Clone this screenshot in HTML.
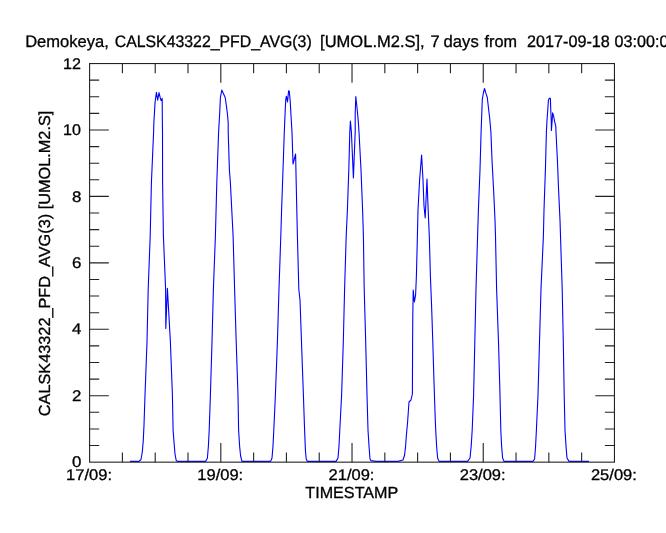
<!DOCTYPE html>
<html><head><meta charset="utf-8"><title>plot</title>
<style>
html,body{margin:0;padding:0;background:#fff;overflow:hidden}
svg{display:block}
text{font-family:"Liberation Sans",sans-serif;font-size:16.05px;fill:#000;stroke:#000;stroke-width:0.3px;text-rendering:geometricPrecision}
text.k{font-size:15.4px}
text.t{font-size:16.6px;stroke-width:0.3px}
</style></head><body>
<svg width="666" height="533" viewBox="0 0 666 533">
<rect width="666" height="533" fill="#fff"/>
<text class="t" y="46.9"><tspan x="25.2" textLength="83.6" lengthAdjust="spacingAndGlyphs">Demokeya,</tspan> <tspan x="114.7" textLength="197.0" lengthAdjust="spacingAndGlyphs">CALSK43322_PFD_AVG(3)</tspan> <tspan x="320.1" textLength="104.6" lengthAdjust="spacingAndGlyphs">[UMOL.M2.S],</tspan> <tspan x="430.4" textLength="9.2" lengthAdjust="spacingAndGlyphs">7</tspan> <tspan x="443.6" textLength="35.2" lengthAdjust="spacingAndGlyphs">days</tspan> <tspan x="484.5" textLength="32.4" lengthAdjust="spacingAndGlyphs">from</tspan> <tspan x="527.0" textLength="82.8" lengthAdjust="spacingAndGlyphs">2017-09-18</tspan> <tspan x="614.6" textLength="62.8" lengthAdjust="spacingAndGlyphs">03:00:00</tspan></text>
<polyline points="130,461.4 139,461.4 141,459.5 142.3,452 143.3,440 144,425 145,395 147,342 148.2,289 150.2,236 151.4,183 153.6,132 153.9,121.8 154.5,111.9 155,102.9 156.4,92.3 157.7,100.2 159,92.6 160.2,97.5 161.1,100.7 162.2,98.4 162.3,115.5 162.5,132 162.6,183 163.4,236 165.6,289 165.8,328.4 167.4,288.4 170.4,342 172.4,395 173.1,430 174,442 175,454 176.2,460.3 177.2,461.4 205.6,461.4 207.4,458 208.4,446 209.2,430 210.4,395 212,342 213.4,289 215.4,236 216.8,183 218.6,132 219.3,120 219.8,111 220.4,97.5 221.8,90.1 225.2,97.5 226.5,106.5 227.6,115.5 228.2,122.7 228.2,132 229.4,170 230.4,183 233.1,236 234.6,289 236.2,342 238,395 238.6,430 239.6,446 240.6,456 242,461.4 270.6,461.4 272,458 273,446 273.8,430 275.4,395 277.4,342 279,289 280.8,236 281.6,210 283,170 284.3,132 284.8,120 285.4,106.5 285.7,100.2 286.4,96.2 287.5,102 288.6,90.8 289.3,91.2 290.2,101.1 291.1,117.3 292,132 293,164 295.6,154 296.2,183 297.4,236 298.8,289 300,300 301.5,342 303.4,395 304.6,430 305.4,450 306.2,459 307.4,461.4 336,461.4 338,458 339,446 339.8,430 341.6,395 343.3,342 344.6,289 346.2,236 347.4,210 348.8,170 349.8,132 350.4,121 351.4,132 353.4,178 355.2,132 355.2,113.7 355.8,96.6 356.7,104.7 357.6,113.7 358.3,121.8 359,132 361,170 362.6,210 363.4,236 364.2,289 365.7,342 367,395 368,430 369,446 370,459 371,460.6 376,461.4 398,461.4 403,460 404.6,455 405.6,446 406.4,435 407.6,422 409,402 411,400 412.4,394 412.6,342 412.8,316 413.2,290 414.4,302 415.6,295 416.4,276 417.4,236 418,210 419.6,180 421.6,155 423,180 424,206 425.2,218 427,179 428,206 429.3,236 430.4,276 431.6,306 432.8,342 434,382 435.2,418 435.8,432 436.6,446 437.6,458 439,461.4 467.6,461.4 470,458 471.2,446 472.2,430 473.6,395 474.8,342 476,289 477.6,236 478.4,210 480,170 481.1,132 481.6,118.2 482.3,99.3 483.4,93 484.5,88.5 486.1,93.9 487.3,97.5 488.3,106.5 489.7,118.2 490.9,132 492,160 493.6,190 495,220 495.5,236 496.6,289 498.5,342 500,395 500.8,430 501.6,446 502.6,458 504,461.4 533,461.4 534.6,459 535.6,446 536.4,430 538,395 539.5,342 541,289 543.4,236 544,210 545.4,170 546.4,132 547,120 547.7,111 548.4,100.2 549.3,98.2 550.4,98.2 550.8,111 551.3,121.8 551.4,130.4 552.2,120 552.6,112.8 553.5,115.5 554.7,121.8 555.8,126.3 556,132 557.4,160 558.6,190 560,220 560.5,236 562.2,289 563.3,342 564.2,395 565,430 566,446 567,458 569,461.4 589,461.4" fill="none" stroke="#0000ff" stroke-width="1.1" stroke-linejoin="round"/>
<rect x="89.6" y="63.55" width="524.85" height="398.6" fill="none" stroke="#222" stroke-width="1.1"/>
<path d="M122.4 462.15v-9.6M122.4 63.55v9.6M155.21 462.15v-9.6M155.21 63.55v9.6M188.01 462.15v-9.6M188.01 63.55v9.6M220.81 462.15v-19.2M220.81 63.55v19.2M253.62 462.15v-9.6M253.62 63.55v9.6M286.42 462.15v-9.6M286.42 63.55v9.6M319.22 462.15v-9.6M319.22 63.55v9.6M352.02 462.15v-19.2M352.02 63.55v19.2M384.83 462.15v-9.6M384.83 63.55v9.6M417.63 462.15v-9.6M417.63 63.55v9.6M450.43 462.15v-9.6M450.43 63.55v9.6M483.24 462.15v-19.2M483.24 63.55v19.2M516.04 462.15v-9.6M516.04 63.55v9.6M548.84 462.15v-9.6M548.84 63.55v9.6M581.65 462.15v-9.6M581.65 63.55v9.6M89.6 445.54h9.6M614.45 445.54h-9.6M89.6 428.93h9.6M614.45 428.93h-9.6M89.6 412.32h9.6M614.45 412.32h-9.6M89.6 395.72h19.2M614.45 395.72h-19.2M89.6 379.11h9.6M614.45 379.11h-9.6M89.6 362.5h9.6M614.45 362.5h-9.6M89.6 345.89h9.6M614.45 345.89h-9.6M89.6 329.28h19.2M614.45 329.28h-19.2M89.6 312.68h9.6M614.45 312.68h-9.6M89.6 296.07h9.6M614.45 296.07h-9.6M89.6 279.46h9.6M614.45 279.46h-9.6M89.6 262.85h19.2M614.45 262.85h-19.2M89.6 246.24h9.6M614.45 246.24h-9.6M89.6 229.63h9.6M614.45 229.63h-9.6M89.6 213.03h9.6M614.45 213.03h-9.6M89.6 196.42h19.2M614.45 196.42h-19.2M89.6 179.81h9.6M614.45 179.81h-9.6M89.6 163.2h9.6M614.45 163.2h-9.6M89.6 146.59h9.6M614.45 146.59h-9.6M89.6 129.98h19.2M614.45 129.98h-19.2M89.6 113.38h9.6M614.45 113.38h-9.6M89.6 96.77h9.6M614.45 96.77h-9.6M89.6 80.16h9.6M614.45 80.16h-9.6" fill="none" stroke="#222" stroke-width="1.1"/>
<text x="66.1" y="479.9" textLength="45.9" lengthAdjust="spacingAndGlyphs" class="k">17/09:</text>
<text x="197.31" y="479.9" textLength="45.9" lengthAdjust="spacingAndGlyphs" class="k">19/09:</text>
<text x="328.52" y="479.9" textLength="45.9" lengthAdjust="spacingAndGlyphs" class="k">21/09:</text>
<text x="459.74" y="479.9" textLength="45.9" lengthAdjust="spacingAndGlyphs" class="k">23/09:</text>
<text x="590.95" y="479.9" textLength="45.9" lengthAdjust="spacingAndGlyphs" class="k">25/09:</text>
<text x="71.9" y="467.25" textLength="9.4" lengthAdjust="spacingAndGlyphs" class="k">0</text>
<text x="71.9" y="400.82" textLength="9.4" lengthAdjust="spacingAndGlyphs" class="k">2</text>
<text x="71.9" y="334.38" textLength="9.4" lengthAdjust="spacingAndGlyphs" class="k">4</text>
<text x="71.9" y="267.95" textLength="9.4" lengthAdjust="spacingAndGlyphs" class="k">6</text>
<text x="71.9" y="201.52" textLength="9.4" lengthAdjust="spacingAndGlyphs" class="k">8</text>
<text x="63.1" y="135.08" textLength="17.9" lengthAdjust="spacingAndGlyphs" class="k">10</text>
<text x="63.1" y="68.65" textLength="17.9" lengthAdjust="spacingAndGlyphs" class="k">12</text>
<text x="305.3" y="498.4" textLength="93.0" lengthAdjust="spacingAndGlyphs">TIMESTAMP</text>
<text transform="translate(50.4 416.2) rotate(-90)" textLength="305.5" lengthAdjust="spacingAndGlyphs">CALSK43322_PFD_AVG(3) [UMOL.M2.S]</text>
</svg>
</body></html>
